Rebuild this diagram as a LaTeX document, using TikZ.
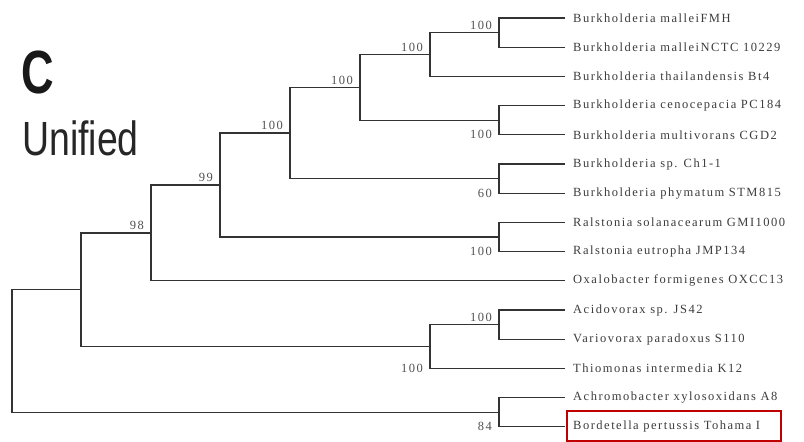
\documentclass[tikz,border=0pt]{standalone}
\usepackage{graphicx}
\usepackage{fontspec}
\setmainfont{Liberation Serif}
\newfontfamily\leaffont[LetterSpace=12]{Liberation Serif}
\newfontfamily\headfont{Liberation Sans}
\definecolor{branchc}{HTML}{333333}
\definecolor{leafgray}{HTML}{3C3C3C}
\definecolor{bootgray}{HTML}{505050}
\definecolor{boxred}{HTML}{C00000}
\begin{document}
\begin{tikzpicture}[x=1pt,y=-1pt,
  branch/.style={draw=branchc, line width=1.3pt},
  leaf/.style={anchor=west, inner xsep=8pt, inner ysep=0pt,
    font=\leaffont\fontsize{12.5}{12.5}\selectfont, text=leafgray},
  boot/.style={font=\leaffont\fontsize{12.5}{12.5}\selectfont, text=bootgray, inner sep=0pt},
  bootup/.style={boot, anchor=south east, xshift=-7pt, yshift=3pt},
  bootdown/.style={boot, anchor=east, xshift=-7pt},
  ]
\useasboundingbox (0,0) rectangle (804,442);

% title
\node[anchor=base west, inner sep=0pt, font=\headfont\bfseries\fontsize{61}{61}\selectfont, text=black!90] (ttlC) at (21,93) {\scalebox{0.74}[1]{C}};
\node[anchor=base west, inner sep=0pt, font=\headfont\fontsize{48}{48}\selectfont, text=black!85] (ttlU) at (22,155) {\scalebox{0.78}[1]{Unified}};

% highlight box
\node[draw=boxred, line width=2pt, minimum width=214pt, minimum height=30pt, inner sep=0pt] (hl) at (674,426) {};

% leaves
\node[leaf] (L1) at (565,18) {Burkholderia malleiFMH};
\node[leaf] (L2) at (565,47.2) {Burkholderia malleiNCTC 10229};
\node[leaf] (L3) at (565,76.4) {Burkholderia thailandensis Bt4};
\node[leaf] (L4) at (565,105.6) {Burkholderia cenocepacia PC184};
\node[leaf] (L5) at (565,134.8) {Burkholderia multivorans CGD2};
\node[leaf] (L6) at (565,164) {Burkholderia sp. Ch1-1};
\node[leaf] (L7) at (565,193.2) {Burkholderia phymatum STM815};
\node[leaf] (L8) at (565,222.4) {Ralstonia solanacearum GMI1000};
\node[leaf] (L9) at (565,251.6) {Ralstonia eutropha JMP134};
\node[leaf] (L10) at (565,280.8) {Oxalobacter formigenes OXCC13};
\node[leaf] (L11) at (565,310) {Acidovorax sp. JS42};
\node[leaf] (L12) at (565,339.2) {Variovorax paradoxus S110};
\node[leaf] (L13) at (565,368.4) {Thiomonas intermedia K12};
\node[leaf] (L14) at (565,397.6) {Achromobacter xylosoxidans A8};
\node[leaf] (L15) at (565,426.8) {Bordetella pertussis Tohama I};

% internal nodes
\coordinate (N1) at (499,32.6);
\coordinate (N2) at (430,54.5);
\coordinate (N4) at (499,120.2);
\coordinate (N3) at (360,87.4);
\coordinate (N5) at (499,178.6);
\coordinate (N6) at (290,133);
\coordinate (N7) at (499,237);
\coordinate (N8) at (220,185);
\coordinate (N9) at (151,232.9);
\coordinate (N10) at (499,324.6);
\coordinate (N11) at (430,346.5);
\coordinate (N13) at (81,289.7);
\coordinate (N12) at (499,412.2);
\coordinate (R) at (12,351);

% branches
\draw[branch] (L1.west) -| (N1) |- (L2.west);
\draw[branch] (N1) -| (N2) |- (L3.west);
\draw[branch] (L4.west) -| (N4) |- (L5.west);
\draw[branch] (N2) -| (N3) |- (N4);
\draw[branch] (L6.west) -| (N5) |- (L7.west);
\draw[branch] (N3) -| (N6) |- (N5);
\draw[branch] (L8.west) -| (N7) |- (L9.west);
\draw[branch] (N6) -| (N8) |- (N7);
\draw[branch] (N8) -| (N9) |- (L10.west);
\draw[branch] (L11.west) -| (N10) |- (L12.west);
\draw[branch] (N10) -| (N11) |- (L13.west);
\draw[branch] (N9) -| (N13) |- (N11);
\draw[branch] (L14.west) -| (N12) |- (L15.west);
\draw[branch] (N13) -| (R) |- (N12);

% bootstrap values
\node[bootup] (b1) at (N1) {100};
\node[bootup] (b2) at (N2) {100};
\node[bootup] (b3) at (N3) {100};
\node[bootup] (b6) at (N6) {100};
\node[bootup] (b8) at (N8) {99};
\node[bootup] (b9) at (N9) {98};
\node[bootup] (b10) at (N10) {100};
\node[bootdown] (b4) at (N4 |- L5.west) {100};
\node[bootdown] (b5) at (N5 |- L7.west) {60};
\node[bootdown] (b7) at (N7 |- L9.west) {100};
\node[bootdown] (b11) at (N11 |- L13.west) {100};
\node[bootdown] (b12) at (N12 |- L15.west) {84};
\end{tikzpicture}
\end{document}
